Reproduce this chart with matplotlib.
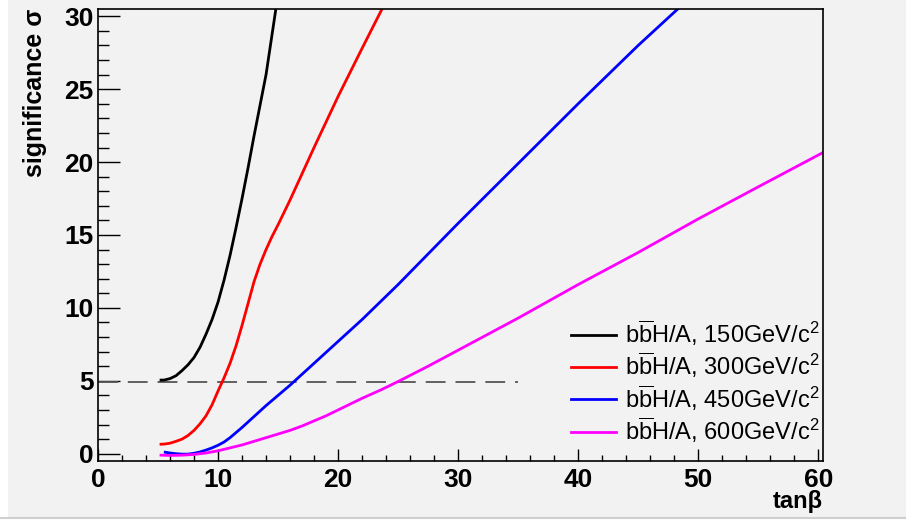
import matplotlib
matplotlib.use('Agg')
import matplotlib.pyplot as plt
from matplotlib.ticker import MultipleLocator
from matplotlib.patches import Rectangle
from matplotlib.lines import Line2D

plt.rcParams['font.family'] = ['Liberation Sans', 'DejaVu Sans']
plt.rcParams['mathtext.fontset'] = 'custom'
plt.rcParams['mathtext.rm'] = 'Liberation Sans'
plt.rcParams['mathtext.it'] = 'Liberation Sans:italic'
plt.rcParams['mathtext.bf'] = 'Liberation Sans:bold'

# significance vs tan(beta)
tb_150 = [5.25, 5.5, 6, 6.5, 7, 7.5, 8, 8.5, 9, 9.5, 10, 10.5, 11, 11.5, 12, 12.5, 13, 13.5, 14, 14.4, 14.8]
sig_150 = [5.05, 5.05, 5.15, 5.35, 5.7, 6.1, 6.6, 7.3, 8.2, 9.2, 10.4, 11.9, 13.6, 15.5, 17.5, 19.6, 21.8, 23.9, 26.0, 28.2, 30.4]

tb_300 = [5.25, 5.5, 6, 6.5, 7, 7.5, 8, 8.5, 9, 9.5, 10, 10.5, 11, 11.5, 12, 12.5, 13, 13.5, 14, 14.5, 15, 16, 17, 18, 20, 22, 23.6]
sig_300 = [0.65, 0.66, 0.72, 0.85, 1.0, 1.25, 1.6, 2.05, 2.6, 3.35, 4.3, 5.2, 6.2, 7.4, 8.8, 10.3, 11.8, 13.0, 14.0, 14.9, 15.7, 17.4, 19.2, 21.0, 24.5, 27.8, 30.4]

tb_450 = [5.6, 6, 6.5, 7, 7.5, 8, 8.5, 9, 9.5, 10, 10.5, 11, 11.5, 12, 13, 14, 15, 16, 17, 18, 20, 22, 25, 30, 35, 40, 45, 48.3]
sig_450 = [0.1, 0.05, 0.0, -0.03, -0.03, 0.03, 0.12, 0.25, 0.4, 0.58, 0.8, 1.1, 1.45, 1.8, 2.55, 3.3, 4.0, 4.7, 5.45, 6.2, 7.7, 9.2, 11.6, 15.8, 19.9, 24.0, 28.0, 30.5]

tb_600 = [5.25, 6, 7, 8, 9, 10, 11, 12, 13, 14, 15, 16, 17, 18, 19, 20, 21, 22, 23.5, 25, 27.5, 30, 35, 40, 45, 50, 55, 60.5]
sig_600 = [-0.1, -0.12, -0.1, -0.05, 0.05, 0.2, 0.4, 0.6, 0.85, 1.1, 1.35, 1.6, 1.9, 2.25, 2.6, 3.0, 3.4, 3.8, 4.35, 4.95, 6.0, 7.1, 9.3, 11.6, 13.8, 16.1, 18.3, 20.7]

labels = [r'b$\overline{\mathrm{b}}$H/A, 150GeV/c$^{2}$',
          r'b$\overline{\mathrm{b}}$H/A, 300GeV/c$^{2}$',
          r'b$\overline{\mathrm{b}}$H/A, 450GeV/c$^{2}$',
          r'b$\overline{\mathrm{b}}$H/A, 600GeV/c$^{2}$']
colors = ['black', 'red', 'blue', '#ff00ff']

thr_x = [0, 35]
thr_y = [4.9, 4.9]

fig = plt.figure(figsize=(9.06, 5.2), dpi=100, facecolor='white')
bg = '#f2f2f2'
fig.patches.append(Rectangle((8 / 906, 3 / 520), 1, 1, transform=fig.transFigure,
                             facecolor=bg, edgecolor='none', zorder=-10))
fig.lines.append(Line2D([0, 1], [2.5 / 520, 2.5 / 520], transform=fig.transFigure,
                        color='#cfcfcf', lw=1.5))

ax = fig.add_axes([98 / 906, 1 - 461 / 520, 725 / 906, 452 / 520])
ax.set_facecolor(bg)

ax.plot(thr_x, thr_y, color='#555555', lw=1.3, dashes=(11, 5.5))
for xs, ys, c, lab in zip([tb_150, tb_300, tb_450, tb_600],
                          [sig_150, sig_300, sig_450, sig_600], colors, labels):
    ax.plot(xs, ys, color=c, lw=2, label=lab, solid_joinstyle='round')

ax.set_xlim(0, 60.4)
ax.set_ylim(-0.5, 30.5)
ax.xaxis.set_major_locator(MultipleLocator(10))
ax.xaxis.set_minor_locator(MultipleLocator(2))
ax.yaxis.set_major_locator(MultipleLocator(5))
ax.yaxis.set_minor_locator(MultipleLocator(1))
ax.tick_params(axis='x', which='major', direction='in', length=8.6, width=1, labelsize=19, pad=5)
ax.tick_params(axis='x', which='minor', direction='in', length=4.3, width=1)
ax.tick_params(axis='y', which='major', direction='in', length=15.5, width=1, labelsize=19, pad=3)
ax.tick_params(axis='y', which='minor', direction='in', length=7.8, width=1)
for t in ax.get_xticklabels() + ax.get_yticklabels():
    t.set_fontweight('bold')
for s in ax.spines.values():
    s.set_linewidth(1.2)

ax.set_ylabel('significance σ', fontsize=18, fontweight='bold')
ax.yaxis.set_label_coords(-0.07, 1.0)
ax.yaxis.label.set_horizontalalignment('right')
ax.set_xlabel('tanβ', fontsize=17, fontweight='bold')
ax.xaxis.set_label_coords(1.0, -0.065)
ax.xaxis.label.set_horizontalalignment('right')

ax.legend(loc='lower right', bbox_to_anchor=(1.008, 0.015), frameon=False, fontsize=17,
          handlelength=1.9, handletextpad=0.38, labelspacing=0.1, borderaxespad=0.0)

fig.savefig('out.png', dpi=100, facecolor=fig.get_facecolor())
